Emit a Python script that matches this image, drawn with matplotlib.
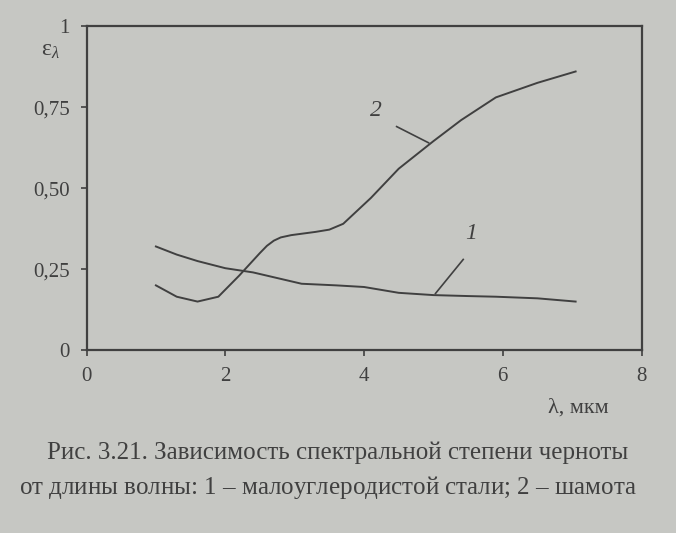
import matplotlib
matplotlib.use("Agg")
from matplotlib import pyplot as plt

# кривая 1 - малоуглеродистая сталь
lam1 = [1.0, 1.3, 1.6, 2.0, 2.4, 2.8, 3.1, 3.6, 4.0, 4.5, 5.0, 5.5, 5.9, 6.5, 7.05]
eps1 = [0.32, 0.295, 0.275, 0.253, 0.24, 0.22, 0.205, 0.2, 0.195, 0.177, 0.17, 0.167, 0.165, 0.16, 0.15]

# кривая 2 - шамот
lam2 = [1.0, 1.3, 1.6, 1.9, 2.2, 2.5, 2.6, 2.7, 2.8, 2.95, 3.3, 3.5, 3.7, 3.9, 4.1, 4.5, 5.0, 5.4, 5.9, 6.5, 7.05]
eps2 = [0.20, 0.165, 0.15, 0.165, 0.23, 0.30, 0.322, 0.338, 0.348, 0.355, 0.365, 0.372, 0.39, 0.43, 0.47, 0.56, 0.645, 0.71, 0.78, 0.825, 0.86]

xticks = [0, 2, 4, 6, 8]
yticks = [0, 0.25, 0.5, 0.75, 1]
ylabels = ["0", "0,25", "0,50", "0,75", "1"]

bg = "#c6c7c3"
ink = "#404040"
plt.rcParams['font.family'] = ['Liberation Serif', 'DejaVu Serif']
plt.rcParams['mathtext.fontset'] = 'custom'
plt.rcParams['mathtext.rm'] = 'Liberation Serif'
plt.rcParams['mathtext.it'] = 'Liberation Serif:italic'

fig = plt.figure(figsize=(6.76, 5.33), dpi=100, facecolor=bg)
ax = fig.add_axes([0.128, 0.343, 0.821, 0.608], facecolor=bg)

ax.plot(lam1, eps1, color=ink, lw=1.4)
ax.plot(lam2, eps2, color=ink, lw=1.4)

ax.set_xlim(0, 8)
ax.set_ylim(0, 1)
ax.set_xticks(xticks)
ax.set_xticklabels([str(t) for t in xticks], fontsize=15, color=ink)
ax.set_yticks(yticks)
ax.set_yticklabels(ylabels, fontsize=15, color=ink)
ax.tick_params(direction='out', length=4, width=1.2, color=ink, pad=8)
for s in ax.spines.values():
    s.set_color(ink)
    s.set_linewidth(1.6)

# подписи кривых с выносками
ax.plot([4.47, 4.93], [0.69, 0.64], color=ink, lw=1.2)
ax.text(4.17, 0.74, "2", fontsize=17, style='italic', color=ink, ha='center', va='center')
ax.plot([5.43, 5.03], [0.28, 0.175], color=ink, lw=1.2)
ax.text(5.54, 0.36, "1", fontsize=17, style='italic', color=ink, ha='center', va='center')

fig.text(0.06, 0.905, "ε$_\\lambda$", fontsize=17, color=ink, ha='left', va='center')
fig.text(0.855, 0.235, "λ, мкм", fontsize=16, color=ink, ha='center', va='center')

fig.text(0.5, 0.15, "Рис. 3.21. Зависимость спектральной степени черноты",
         fontsize=18, color=ink, ha='center', va='center')
fig.text(0.485, 0.085, "от длины волны: $\\it{1}$ – малоуглеродистой стали; 2 – шамота",
         fontsize=18, color=ink, ha='center', va='center')

fig.savefig("out.png", dpi=100, facecolor=bg)
